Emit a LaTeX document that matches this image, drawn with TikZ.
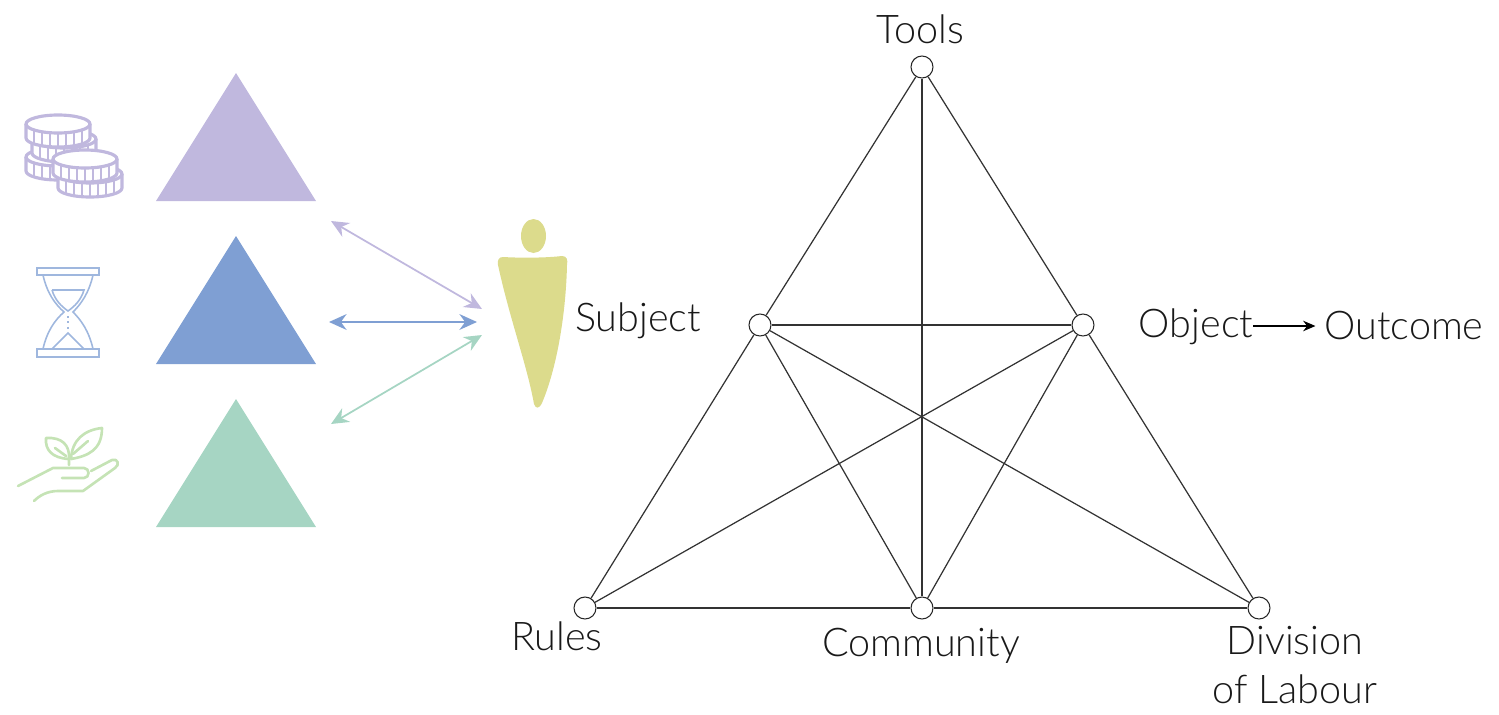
\documentclass[tikz,border=0pt]{standalone}
\usepackage{fontspec}
\setmainfont{Lato Light}
\usepackage{xcolor}
\usetikzlibrary{arrows.meta}
\usetikzlibrary{positioning}

\definecolor{wealth}{HTML}{C0B8DE}
\definecolor{clock}{HTML}{7F9FD3}
\definecolor{nature}{HTML}{A6D5C3}
\definecolor{leaf}{HTML}{C5E3B5}
\definecolor{figure}{HTML}{DCDB8C}

% one coin: centre x, centre y
\newcommand{\coin}[2]{
\fill[white] (#1-32,#2) -- (#1-32,#2+14) arc[start angle=180,end angle=0,x radius=32,y radius=9] -- (#1+32,#2) arc[start angle=0,end angle=-180,x radius=32,y radius=9] -- cycle;
\foreach \t in {-24,-16,...,24}
  \draw[wealth,line width=1.4pt] ({#1+\t},{#2+9*sqrt(1-(\t/32)^2)}) -- ++(0,14);
\draw[wealth,line width=1.8pt,line join=round] (#1-32,#2) -- (#1-32,#2+14) arc[start angle=180,end angle=0,x radius=32,y radius=9] -- (#1+32,#2);
\draw[wealth,line width=1.8pt] (#1,#2) ellipse[x radius=32,y radius=9];
}

\begin{document}
\begin{tikzpicture}
        [x=0.02cm,y=-0.02cm,
        vertex/.style={circle,draw=black!85,fill=white,semithick,minimum size=0.44cm,inner sep=0},
        label/.style={text=black!90,font=\fontsize{22.5}{27.5}\selectfont,inner sep=0,align=center},
        edge/.style={draw=black!80,line width=0.7pt},
        link/.style={<->,>={Stealth[length=10pt,width=9pt]},line width=1pt}]

\useasboundingbox (0,0) rectangle (1499,714);

% triangles
\fill[wealth] (236,73) -- (316,201) -- (156,201) -- cycle;
\fill[clock] (236,236) -- (316,364) -- (156,364) -- cycle;
\fill[nature] (236,399) -- (316,527) -- (156,527) -- cycle;

% coins
\coin{58}{157}
\coin{64}{139}
\coin{58}{124}
\coin{90}{174}
\coin{85}{159}

% hourglass
\begin{scope}[clock!75,line width=0.9pt]
\draw (37,268) rectangle (99,275);
\draw (37,349) rectangle (99,357);
\draw (43,275) .. controls (47,293) and (55,304) .. (64,312) .. controls (55,320) and (47,331) .. (43,349);
\draw (93,275) .. controls (89,293) and (81,304) .. (73,312) .. controls (81,320) and (89,331) .. (93,349);
\draw (52,290) -- (84,290) .. controls (81,300) and (75,306) .. (68,311) .. controls (61,306) and (55,300) .. (52,290);
\draw (52,349) -- (68,333) -- (84,349);
\draw[dotted,line width=1.1pt] (68,316) -- (68,331);
\end{scope}

% plant
\begin{scope}[leaf,line width=1.5pt,line cap=round,line join=round]
\draw (18,486) -- (53,468) -- (84,468) .. controls (90,468) and (90,478) .. (84,478) -- (62,478);
\draw (91,471) -- (112,460) .. controls (118,458) and (120,465) .. (115,468) -- (83,491) -- (58,491) .. controls (48,491) and (40,495) .. (34,501);
\draw (69,465) -- (69,459) .. controls (70,445) and (62,437) .. (46,438) .. controls (45,450) and (52,458) .. (69,459);
\draw (71,459) .. controls (88,456) and (102,450) .. (102,428) .. controls (84,430) and (72,440) .. (71,459);
\draw (66,456) -- (55,448);
\draw (73,454) -- (88,441);
\end{scope}

% subject figure
\fill[figure] (533.5,236) ellipse[x radius=12.5,y radius=17];
\fill[figure] (503,257) .. controls (520,258) and (545,258) .. (562,256) .. controls (567,256) and (568,260) .. (567,265) .. controls (566,310) and (558,365) .. (542,403) .. controls (539,409) and (536,409) .. (534,404) .. controls (527,365) and (510,320) .. (498,265) .. controls (497,260) and (499,257) .. (503,257) -- cycle;

% types
\node[vertex] at (922,67) (tools) {};
\node[vertex] at (760,325) (subject) {};
\node[vertex] at (1083,325) (object) {};
\node[vertex] at (585,608) (rules) {};
\node[vertex] at (922,608) (community) {};
\node[vertex] at (1259,608) (division) {};

\node[label] at (920,29) (toolstext) {Tools};
\node[label] at (638,321) (subjecttext) {Subject};
\node[label] at (1196,327) (objecttext) {Object};
\node[label] at (1404,326) (outcometext) {Outcome};
\node[label] at (557,636) (rulestext) {Rules};
\node[label] at (921,646) (communitytext) {Community};
\node[label] at (1295,665) (divisiontext) {Division\\of Labour};

% arrow ends
\coordinate (wealthfrom) at (331,221);
\coordinate (wealthto) at (482,309);
\coordinate (clockfrom) at (329,322);
\coordinate (clockto) at (477,322);
\coordinate (naturefrom) at (331,424);
\coordinate (natureto) at (482,335);

%arrows
\draw[link,wealth] (wealthfrom) -- (wealthto);
\draw[link,clock] (clockfrom) -- (clockto);
\draw[link,nature] (naturefrom) -- (natureto);
\draw[->,>={Stealth[length=7pt,width=6pt]},black,semithick,shorten >=5] (objecttext.east |- outcometext.west) -- (outcometext.west);

\draw[edge] (tools) -- (subject);
\draw[edge] (tools) -- (object);
\draw[edge] (tools) -- (community);
\draw[edge] (subject) -- (object);
\draw[edge] (subject) -- (rules);
\draw[edge] (subject) -- (community);
\draw[edge] (subject) -- (division);
\draw[edge] (object) -- (rules);
\draw[edge] (object) -- (community);
\draw[edge] (object) -- (division);
\draw[edge] (rules) -- (community);
\draw[edge] (community) -- (division);

\end{tikzpicture}
\end{document}
